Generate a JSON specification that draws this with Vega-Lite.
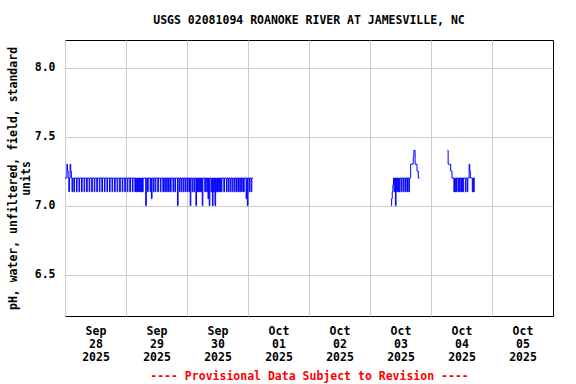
{
  "$schema": "https://vega.github.io/schema/vega-lite/v6.json",
  "width": 488,
  "height": 276,
  "autosize": {"type": "none"},
  "padding": {"left": 65, "top": 40, "right": 23, "bottom": 68},
  "background": "white",
  "config": {"view": {"stroke": "black", "strokeWidth": 1}, "font": "DejaVu Sans Mono"},
  "title": {"text": "USGS 02081094 ROANOKE RIVER AT JAMESVILLE, NC", "font": "DejaVu Sans Mono", "fontSize": 11.5, "fontWeight": "bold", "anchor": "middle", "frame": "group", "offset": 14, "color": "black"},
  "data": {"values": [
    {"t": "2025-09-28T00:00", "v": 7.2, "s": 1},
    {"t": "2025-09-28T00:45", "v": 7.3, "s": 1},
    {"t": "2025-09-28T01:00", "v": 7.25, "s": 1},
    {"t": "2025-09-28T01:15", "v": 7.2, "s": 1},
    {"t": "2025-09-28T01:30", "v": 7.1, "s": 1},
    {"t": "2025-09-28T01:45", "v": 7.2, "s": 1},
    {"t": "2025-09-28T02:00", "v": 7.3, "s": 1},
    {"t": "2025-09-28T02:15", "v": 7.25, "s": 1},
    {"t": "2025-09-28T02:30", "v": 7.2, "s": 1},
    {"t": "2025-09-28T02:45", "v": 7.1, "s": 1},
    {"t": "2025-09-28T03:00", "v": 7.2, "s": 1},
    {"t": "2025-09-28T03:30", "v": 7.1, "s": 1},
    {"t": "2025-09-28T03:45", "v": 7.2, "s": 1},
    {"t": "2025-09-28T04:30", "v": 7.1, "s": 1},
    {"t": "2025-09-28T04:45", "v": 7.2, "s": 1},
    {"t": "2025-09-28T05:30", "v": 7.1, "s": 1},
    {"t": "2025-09-28T05:45", "v": 7.2, "s": 1},
    {"t": "2025-09-28T06:30", "v": 7.1, "s": 1},
    {"t": "2025-09-28T06:45", "v": 7.2, "s": 1},
    {"t": "2025-09-28T07:30", "v": 7.1, "s": 1},
    {"t": "2025-09-28T07:45", "v": 7.2, "s": 1},
    {"t": "2025-09-28T08:30", "v": 7.1, "s": 1},
    {"t": "2025-09-28T08:45", "v": 7.2, "s": 1},
    {"t": "2025-09-28T09:30", "v": 7.1, "s": 1},
    {"t": "2025-09-28T09:45", "v": 7.2, "s": 1},
    {"t": "2025-09-28T10:30", "v": 7.1, "s": 1},
    {"t": "2025-09-28T10:45", "v": 7.2, "s": 1},
    {"t": "2025-09-28T11:30", "v": 7.1, "s": 1},
    {"t": "2025-09-28T11:45", "v": 7.2, "s": 1},
    {"t": "2025-09-28T12:30", "v": 7.1, "s": 1},
    {"t": "2025-09-28T12:45", "v": 7.2, "s": 1},
    {"t": "2025-09-28T13:30", "v": 7.1, "s": 1},
    {"t": "2025-09-28T13:45", "v": 7.2, "s": 1},
    {"t": "2025-09-28T14:30", "v": 7.1, "s": 1},
    {"t": "2025-09-28T14:45", "v": 7.2, "s": 1},
    {"t": "2025-09-28T15:30", "v": 7.1, "s": 1},
    {"t": "2025-09-28T15:45", "v": 7.2, "s": 1},
    {"t": "2025-09-28T16:30", "v": 7.1, "s": 1},
    {"t": "2025-09-28T16:45", "v": 7.2, "s": 1},
    {"t": "2025-09-28T17:30", "v": 7.1, "s": 1},
    {"t": "2025-09-28T17:45", "v": 7.2, "s": 1},
    {"t": "2025-09-28T18:30", "v": 7.1, "s": 1},
    {"t": "2025-09-28T18:45", "v": 7.2, "s": 1},
    {"t": "2025-09-28T19:30", "v": 7.1, "s": 1},
    {"t": "2025-09-28T19:45", "v": 7.2, "s": 1},
    {"t": "2025-09-28T20:30", "v": 7.1, "s": 1},
    {"t": "2025-09-28T20:45", "v": 7.2, "s": 1},
    {"t": "2025-09-28T21:30", "v": 7.1, "s": 1},
    {"t": "2025-09-28T21:45", "v": 7.2, "s": 1},
    {"t": "2025-09-28T22:30", "v": 7.1, "s": 1},
    {"t": "2025-09-28T22:45", "v": 7.2, "s": 1},
    {"t": "2025-09-28T23:30", "v": 7.1, "s": 1},
    {"t": "2025-09-28T23:45", "v": 7.2, "s": 1},
    {"t": "2025-09-29T00:30", "v": 7.1, "s": 1},
    {"t": "2025-09-29T00:45", "v": 7.2, "s": 1},
    {"t": "2025-09-29T01:30", "v": 7.1, "s": 1},
    {"t": "2025-09-29T01:45", "v": 7.2, "s": 1},
    {"t": "2025-09-29T02:30", "v": 7.1, "s": 1},
    {"t": "2025-09-29T02:45", "v": 7.2, "s": 1},
    {"t": "2025-09-29T03:30", "v": 7.1, "s": 1},
    {"t": "2025-09-29T03:45", "v": 7.2, "s": 1},
    {"t": "2025-09-29T04:00", "v": 7.1, "s": 1},
    {"t": "2025-09-29T04:15", "v": 7.2, "s": 1},
    {"t": "2025-09-29T04:30", "v": 7.1, "s": 1},
    {"t": "2025-09-29T04:45", "v": 7.2, "s": 1},
    {"t": "2025-09-29T05:00", "v": 7.1, "s": 1},
    {"t": "2025-09-29T05:15", "v": 7.2, "s": 1},
    {"t": "2025-09-29T05:30", "v": 7.1, "s": 1},
    {"t": "2025-09-29T05:45", "v": 7.2, "s": 1},
    {"t": "2025-09-29T06:00", "v": 7.1, "s": 1},
    {"t": "2025-09-29T06:15", "v": 7.2, "s": 1},
    {"t": "2025-09-29T06:30", "v": 7.1, "s": 1},
    {"t": "2025-09-29T06:45", "v": 7.2, "s": 1},
    {"t": "2025-09-29T07:45", "v": 7.0, "s": 1},
    {"t": "2025-09-29T08:00", "v": 7.2, "s": 1},
    {"t": "2025-09-29T08:30", "v": 7.1, "s": 1},
    {"t": "2025-09-29T08:45", "v": 7.2, "s": 1},
    {"t": "2025-09-29T09:30", "v": 7.1, "s": 1},
    {"t": "2025-09-29T09:45", "v": 7.2, "s": 1},
    {"t": "2025-09-29T10:00", "v": 7.05, "s": 1},
    {"t": "2025-09-29T10:15", "v": 7.2, "s": 1},
    {"t": "2025-09-29T10:45", "v": 7.1, "s": 1},
    {"t": "2025-09-29T11:00", "v": 7.2, "s": 1},
    {"t": "2025-09-29T11:30", "v": 7.1, "s": 1},
    {"t": "2025-09-29T11:45", "v": 7.2, "s": 1},
    {"t": "2025-09-29T12:30", "v": 7.1, "s": 1},
    {"t": "2025-09-29T12:45", "v": 7.2, "s": 1},
    {"t": "2025-09-29T13:30", "v": 7.1, "s": 1},
    {"t": "2025-09-29T13:45", "v": 7.2, "s": 1},
    {"t": "2025-09-29T14:30", "v": 7.1, "s": 1},
    {"t": "2025-09-29T14:45", "v": 7.2, "s": 1},
    {"t": "2025-09-29T15:15", "v": 7.1, "s": 1},
    {"t": "2025-09-29T15:30", "v": 7.2, "s": 1},
    {"t": "2025-09-29T16:00", "v": 7.1, "s": 1},
    {"t": "2025-09-29T16:15", "v": 7.2, "s": 1},
    {"t": "2025-09-29T16:45", "v": 7.1, "s": 1},
    {"t": "2025-09-29T17:00", "v": 7.2, "s": 1},
    {"t": "2025-09-29T17:30", "v": 7.1, "s": 1},
    {"t": "2025-09-29T17:45", "v": 7.2, "s": 1},
    {"t": "2025-09-29T18:30", "v": 7.1, "s": 1},
    {"t": "2025-09-29T18:45", "v": 7.2, "s": 1},
    {"t": "2025-09-29T19:15", "v": 7.1, "s": 1},
    {"t": "2025-09-29T19:30", "v": 7.2, "s": 1},
    {"t": "2025-09-29T20:15", "v": 7.0, "s": 1},
    {"t": "2025-09-29T20:30", "v": 7.2, "s": 1},
    {"t": "2025-09-29T21:00", "v": 7.1, "s": 1},
    {"t": "2025-09-29T21:15", "v": 7.2, "s": 1},
    {"t": "2025-09-29T21:45", "v": 7.1, "s": 1},
    {"t": "2025-09-29T22:00", "v": 7.2, "s": 1},
    {"t": "2025-09-29T22:30", "v": 7.1, "s": 1},
    {"t": "2025-09-29T22:45", "v": 7.2, "s": 1},
    {"t": "2025-09-29T23:15", "v": 7.1, "s": 1},
    {"t": "2025-09-29T23:30", "v": 7.2, "s": 1},
    {"t": "2025-09-30T00:00", "v": 7.1, "s": 1},
    {"t": "2025-09-30T00:15", "v": 7.2, "s": 1},
    {"t": "2025-09-30T00:45", "v": 7.1, "s": 1},
    {"t": "2025-09-30T01:00", "v": 7.2, "s": 1},
    {"t": "2025-09-30T01:15", "v": 7.0, "s": 1},
    {"t": "2025-09-30T01:30", "v": 7.2, "s": 1},
    {"t": "2025-09-30T02:00", "v": 7.1, "s": 1},
    {"t": "2025-09-30T02:15", "v": 7.2, "s": 1},
    {"t": "2025-09-30T02:45", "v": 7.1, "s": 1},
    {"t": "2025-09-30T03:00", "v": 7.2, "s": 1},
    {"t": "2025-09-30T03:30", "v": 7.0, "s": 1},
    {"t": "2025-09-30T03:45", "v": 7.2, "s": 1},
    {"t": "2025-09-30T04:00", "v": 7.1, "s": 1},
    {"t": "2025-09-30T04:15", "v": 7.2, "s": 1},
    {"t": "2025-09-30T04:30", "v": 7.1, "s": 1},
    {"t": "2025-09-30T04:45", "v": 7.2, "s": 1},
    {"t": "2025-09-30T05:00", "v": 7.1, "s": 1},
    {"t": "2025-09-30T05:15", "v": 7.2, "s": 1},
    {"t": "2025-09-30T05:30", "v": 7.1, "s": 1},
    {"t": "2025-09-30T05:45", "v": 7.2, "s": 1},
    {"t": "2025-09-30T06:00", "v": 7.0, "s": 1},
    {"t": "2025-09-30T06:15", "v": 7.2, "s": 1},
    {"t": "2025-09-30T07:00", "v": 7.1, "s": 1},
    {"t": "2025-09-30T07:15", "v": 7.2, "s": 1},
    {"t": "2025-09-30T07:45", "v": 7.1, "s": 1},
    {"t": "2025-09-30T08:00", "v": 7.2, "s": 1},
    {"t": "2025-09-30T08:15", "v": 7.05, "s": 1},
    {"t": "2025-09-30T08:30", "v": 7.2, "s": 1},
    {"t": "2025-09-30T08:45", "v": 7.0, "s": 1},
    {"t": "2025-09-30T09:00", "v": 7.2, "s": 1},
    {"t": "2025-09-30T09:30", "v": 7.1, "s": 1},
    {"t": "2025-09-30T09:45", "v": 7.2, "s": 1},
    {"t": "2025-09-30T10:00", "v": 7.0, "s": 1},
    {"t": "2025-09-30T10:15", "v": 7.2, "s": 1},
    {"t": "2025-09-30T10:30", "v": 7.1, "s": 1},
    {"t": "2025-09-30T10:45", "v": 7.2, "s": 1},
    {"t": "2025-09-30T11:00", "v": 7.0, "s": 1},
    {"t": "2025-09-30T11:15", "v": 7.2, "s": 1},
    {"t": "2025-09-30T11:30", "v": 7.1, "s": 1},
    {"t": "2025-09-30T11:45", "v": 7.2, "s": 1},
    {"t": "2025-09-30T12:00", "v": 7.1, "s": 1},
    {"t": "2025-09-30T12:15", "v": 7.2, "s": 1},
    {"t": "2025-09-30T12:30", "v": 7.1, "s": 1},
    {"t": "2025-09-30T12:45", "v": 7.2, "s": 1},
    {"t": "2025-09-30T13:00", "v": 7.1, "s": 1},
    {"t": "2025-09-30T13:15", "v": 7.2, "s": 1},
    {"t": "2025-09-30T13:30", "v": 7.1, "s": 1},
    {"t": "2025-09-30T13:45", "v": 7.2, "s": 1},
    {"t": "2025-09-30T14:30", "v": 7.1, "s": 1},
    {"t": "2025-09-30T14:45", "v": 7.2, "s": 1},
    {"t": "2025-09-30T15:30", "v": 7.1, "s": 1},
    {"t": "2025-09-30T15:45", "v": 7.2, "s": 1},
    {"t": "2025-09-30T16:15", "v": 7.1, "s": 1},
    {"t": "2025-09-30T16:30", "v": 7.2, "s": 1},
    {"t": "2025-09-30T17:00", "v": 7.1, "s": 1},
    {"t": "2025-09-30T17:15", "v": 7.2, "s": 1},
    {"t": "2025-09-30T17:45", "v": 7.1, "s": 1},
    {"t": "2025-09-30T18:00", "v": 7.2, "s": 1},
    {"t": "2025-09-30T18:30", "v": 7.1, "s": 1},
    {"t": "2025-09-30T18:45", "v": 7.2, "s": 1},
    {"t": "2025-09-30T19:15", "v": 7.1, "s": 1},
    {"t": "2025-09-30T19:30", "v": 7.2, "s": 1},
    {"t": "2025-09-30T20:00", "v": 7.1, "s": 1},
    {"t": "2025-09-30T20:15", "v": 7.2, "s": 1},
    {"t": "2025-09-30T20:45", "v": 7.1, "s": 1},
    {"t": "2025-09-30T21:00", "v": 7.2, "s": 1},
    {"t": "2025-09-30T21:30", "v": 7.1, "s": 1},
    {"t": "2025-09-30T21:45", "v": 7.2, "s": 1},
    {"t": "2025-09-30T22:15", "v": 7.1, "s": 1},
    {"t": "2025-09-30T22:30", "v": 7.2, "s": 1},
    {"t": "2025-09-30T23:15", "v": 7.05, "s": 1},
    {"t": "2025-09-30T23:30", "v": 7.2, "s": 1},
    {"t": "2025-09-30T23:45", "v": 7.0, "s": 1},
    {"t": "2025-10-01T00:00", "v": 7.2, "s": 1},
    {"t": "2025-10-01T00:30", "v": 7.1, "s": 1},
    {"t": "2025-10-01T00:45", "v": 7.2, "s": 1},
    {"t": "2025-10-01T01:15", "v": 7.1, "s": 1},
    {"t": "2025-10-01T01:30", "v": 7.2, "s": 1},
    {"t": "2025-10-01T02:00", "v": 7.2, "s": 1},
    {"t": "2025-10-03T08:15", "v": 7.0, "s": 2},
    {"t": "2025-10-03T08:30", "v": 7.05, "s": 2},
    {"t": "2025-10-03T08:45", "v": 7.1, "s": 2},
    {"t": "2025-10-03T09:00", "v": 7.15, "s": 2},
    {"t": "2025-10-03T09:15", "v": 7.2, "s": 2},
    {"t": "2025-10-03T09:30", "v": 7.1, "s": 2},
    {"t": "2025-10-03T09:45", "v": 7.2, "s": 2},
    {"t": "2025-10-03T10:00", "v": 7.0, "s": 2},
    {"t": "2025-10-03T10:15", "v": 7.2, "s": 2},
    {"t": "2025-10-03T10:30", "v": 7.1, "s": 2},
    {"t": "2025-10-03T10:45", "v": 7.2, "s": 2},
    {"t": "2025-10-03T11:00", "v": 7.1, "s": 2},
    {"t": "2025-10-03T11:15", "v": 7.2, "s": 2},
    {"t": "2025-10-03T11:30", "v": 7.1, "s": 2},
    {"t": "2025-10-03T11:45", "v": 7.2, "s": 2},
    {"t": "2025-10-03T12:15", "v": 7.1, "s": 2},
    {"t": "2025-10-03T12:30", "v": 7.2, "s": 2},
    {"t": "2025-10-03T13:00", "v": 7.1, "s": 2},
    {"t": "2025-10-03T13:15", "v": 7.2, "s": 2},
    {"t": "2025-10-03T13:45", "v": 7.1, "s": 2},
    {"t": "2025-10-03T14:00", "v": 7.2, "s": 2},
    {"t": "2025-10-03T14:30", "v": 7.1, "s": 2},
    {"t": "2025-10-03T14:45", "v": 7.2, "s": 2},
    {"t": "2025-10-03T15:15", "v": 7.1, "s": 2},
    {"t": "2025-10-03T15:30", "v": 7.2, "s": 2},
    {"t": "2025-10-03T16:00", "v": 7.3, "s": 2},
    {"t": "2025-10-03T17:00", "v": 7.35, "s": 2},
    {"t": "2025-10-03T17:15", "v": 7.4, "s": 2},
    {"t": "2025-10-03T17:45", "v": 7.3, "s": 2},
    {"t": "2025-10-03T18:30", "v": 7.25, "s": 2},
    {"t": "2025-10-03T19:00", "v": 7.2, "s": 2},
    {"t": "2025-10-03T19:30", "v": 7.2, "s": 2},
    {"t": "2025-10-04T06:30", "v": 7.4, "s": 3},
    {"t": "2025-10-04T06:45", "v": 7.3, "s": 3},
    {"t": "2025-10-04T07:45", "v": 7.25, "s": 3},
    {"t": "2025-10-04T08:15", "v": 7.2, "s": 3},
    {"t": "2025-10-04T09:00", "v": 7.1, "s": 3},
    {"t": "2025-10-04T09:15", "v": 7.2, "s": 3},
    {"t": "2025-10-04T09:30", "v": 7.1, "s": 3},
    {"t": "2025-10-04T09:45", "v": 7.2, "s": 3},
    {"t": "2025-10-04T10:00", "v": 7.1, "s": 3},
    {"t": "2025-10-04T10:15", "v": 7.2, "s": 3},
    {"t": "2025-10-04T10:45", "v": 7.1, "s": 3},
    {"t": "2025-10-04T11:00", "v": 7.2, "s": 3},
    {"t": "2025-10-04T11:15", "v": 7.1, "s": 3},
    {"t": "2025-10-04T11:30", "v": 7.2, "s": 3},
    {"t": "2025-10-04T12:00", "v": 7.1, "s": 3},
    {"t": "2025-10-04T12:15", "v": 7.2, "s": 3},
    {"t": "2025-10-04T12:30", "v": 7.1, "s": 3},
    {"t": "2025-10-04T12:45", "v": 7.2, "s": 3},
    {"t": "2025-10-04T13:30", "v": 7.1, "s": 3},
    {"t": "2025-10-04T13:45", "v": 7.2, "s": 3},
    {"t": "2025-10-04T14:15", "v": 7.1, "s": 3},
    {"t": "2025-10-04T14:30", "v": 7.2, "s": 3},
    {"t": "2025-10-04T15:00", "v": 7.3, "s": 3},
    {"t": "2025-10-04T15:15", "v": 7.25, "s": 3},
    {"t": "2025-10-04T15:30", "v": 7.2, "s": 3},
    {"t": "2025-10-04T16:15", "v": 7.1, "s": 3},
    {"t": "2025-10-04T16:30", "v": 7.2, "s": 3},
    {"t": "2025-10-04T16:45", "v": 7.1, "s": 3},
    {"t": "2025-10-04T17:00", "v": 7.2, "s": 3},
    {"t": "2025-10-04T17:15", "v": 7.2, "s": 3}
  ]},
  "mark": {"type": "line", "interpolate": "step-after", "color": "#0000ff", "strokeWidth": 1},
  "encoding": {
    "x": {
      "field": "t",
      "type": "temporal",
      "scale": {"domain": [{"year": 2025, "month": "sep", "date": 28}, {"year": 2025, "month": "oct", "date": 6}]},
      "axis": {
        "values": [
          {"year": 2025, "month": "sep", "date": 28},
          {"year": 2025, "month": "sep", "date": 29},
          {"year": 2025, "month": "sep", "date": 30},
          {"year": 2025, "month": "oct", "date": 1},
          {"year": 2025, "month": "oct", "date": 2},
          {"year": 2025, "month": "oct", "date": 3},
          {"year": 2025, "month": "oct", "date": 4},
          {"year": 2025, "month": "oct", "date": 5}
        ],
        "labelExpr": "[timeFormat(datum.value, '%b'), timeFormat(datum.value, '%d'), timeFormat(datum.value, '%Y')]",
        "labelOffset": 30.5,
        "labelFont": "DejaVu Sans Mono",
        "labelFontSize": 11.5,
        "labelFontWeight": "bold",
        "labelColor": "black",
        "labelLineHeight": 13,
        "labelPadding": 9,
        "labelBaseline": "top",
        "labelFlush": false,
        "labelOverlap": false,
        "ticks": false,
        "domain": false,
        "grid": true,
        "gridColor": "#cccccc",
        "gridWidth": 1,
        "title": "---- Provisional Data Subject to Revision ----",
        "titleColor": "#ff0000",
        "titleFont": "DejaVu Sans Mono",
        "titleFontSize": 11.5,
        "titleFontWeight": "bold",
        "titlePadding": 8
      }
    },
    "y": {
      "field": "v",
      "type": "quantitative",
      "scale": {"domain": [6.2, 8.2], "nice": false, "zero": false},
      "axis": {
        "values": [6.5, 7.0, 7.5, 8.0],
        "format": ".1f",
        "labelFont": "DejaVu Sans Mono",
        "labelFontSize": 11.5,
        "labelFontWeight": "bold",
        "labelColor": "black",
        "labelPadding": 10,
        "ticks": false,
        "domain": false,
        "grid": true,
        "gridColor": "#cccccc",
        "gridWidth": 1,
        "title": ["pH, water, unfiltered, field, standard", "units"],
        "titleFont": "DejaVu Sans Mono",
        "titleFontSize": 11.5,
        "titleFontWeight": "bold",
        "titleColor": "black",
        "titleLineHeight": 13,
        "titlePadding": 3
      }
    },
    "detail": {"field": "s", "type": "nominal"}
  }
}
